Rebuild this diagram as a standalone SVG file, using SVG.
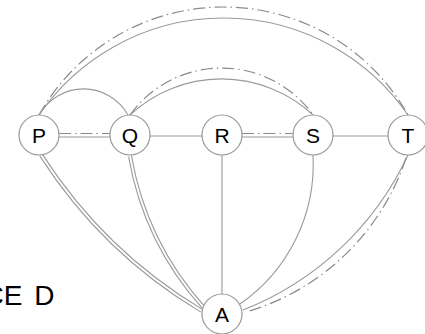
<svg xmlns="http://www.w3.org/2000/svg" width="425" height="334" viewBox="0 0 425 334">
<style>
.s{fill:none;stroke:#9a9a9a;stroke-width:1.1}
.d{fill:none;stroke:#8a8a8a;stroke-width:1.2;stroke-dasharray:12 4 1.5 4}
.n circle{fill:#fff;stroke:#999;stroke-width:1.2}
.n text{font-family:"Liberation Sans",Arial,sans-serif;font-size:21px;fill:#000;text-anchor:middle}
.lbl{font-family:"Liberation Sans",Arial,sans-serif;font-size:28px;fill:#000}
</style>
<defs>
<path id="pa" d="M41 155 A490 490 0 0 0 202 311"/>
<path id="qa" d="M130 156 A305 305 0 0 0 204 308"/>
</defs>
<rect width="425" height="334" fill="#fff"/>
<g id="connectors">
<path class="s" d="M39 115 A224 224 0 0 1 408 115"/>
<path class="d" d="M39 115 A211.6 211.6 0 0 1 408 115"/>
<path class="s" d="M39 115 A51 51 0 0 1 128 115"/>
<path class="s" d="M130 115 A134 134 0 0 1 313 115"/>
<path class="d" d="M130 115 A112.6 112.6 0 0 1 313 115"/>
<line class="s" x1="59" y1="137" x2="110" y2="137"/>
<line class="d" x1="59" y1="133.5" x2="110" y2="133.5"/>
<line class="s" x1="150" y1="136" x2="202" y2="136"/>
<line class="s" x1="242" y1="137" x2="293" y2="137"/>
<line class="d" x1="242" y1="133.5" x2="293" y2="133.5"/>
<line class="s" x1="333" y1="136" x2="388" y2="136"/>
<use href="#pa" class="s" transform="translate(-1.1,1.1)"/>
<use href="#pa" class="s" transform="translate(1.1,-1.1)"/>
<use href="#qa" class="s" transform="translate(-1.4,0.6)"/>
<use href="#qa" class="s" transform="translate(1.4,-0.6)"/>
<line class="s" x1="222" y1="155" x2="222" y2="294"/>
<path class="s" d="M313 155 A170 170 0 0 1 240 304"/>
<path class="s" d="M408 155 A305 305 0 0 1 243 310"/>
<path class="d" d="M406 158 A238 238 0 0 1 246 312"/>
</g>
<g id="P" class="n"><circle cx="39" cy="135" r="20"/><text x="39" y="142.5">P</text></g>
<g id="Q" class="n"><circle cx="130" cy="135" r="20"/><text x="130" y="142.5">Q</text></g>
<g id="R" class="n"><circle cx="222" cy="135" r="20"/><text x="222" y="142.5">R</text></g>
<g id="S" class="n"><circle cx="313" cy="135" r="20"/><text x="313" y="142.5">S</text></g>
<g id="T" class="n"><circle cx="408" cy="135" r="20"/><text x="408" y="142.5">T</text></g>
<g id="A" class="n"><circle cx="222" cy="314" r="20"/><text x="222" y="321.5">A</text></g>
<text class="lbl" x="-16.4" y="305" word-spacing="4">CE D</text>
</svg>
